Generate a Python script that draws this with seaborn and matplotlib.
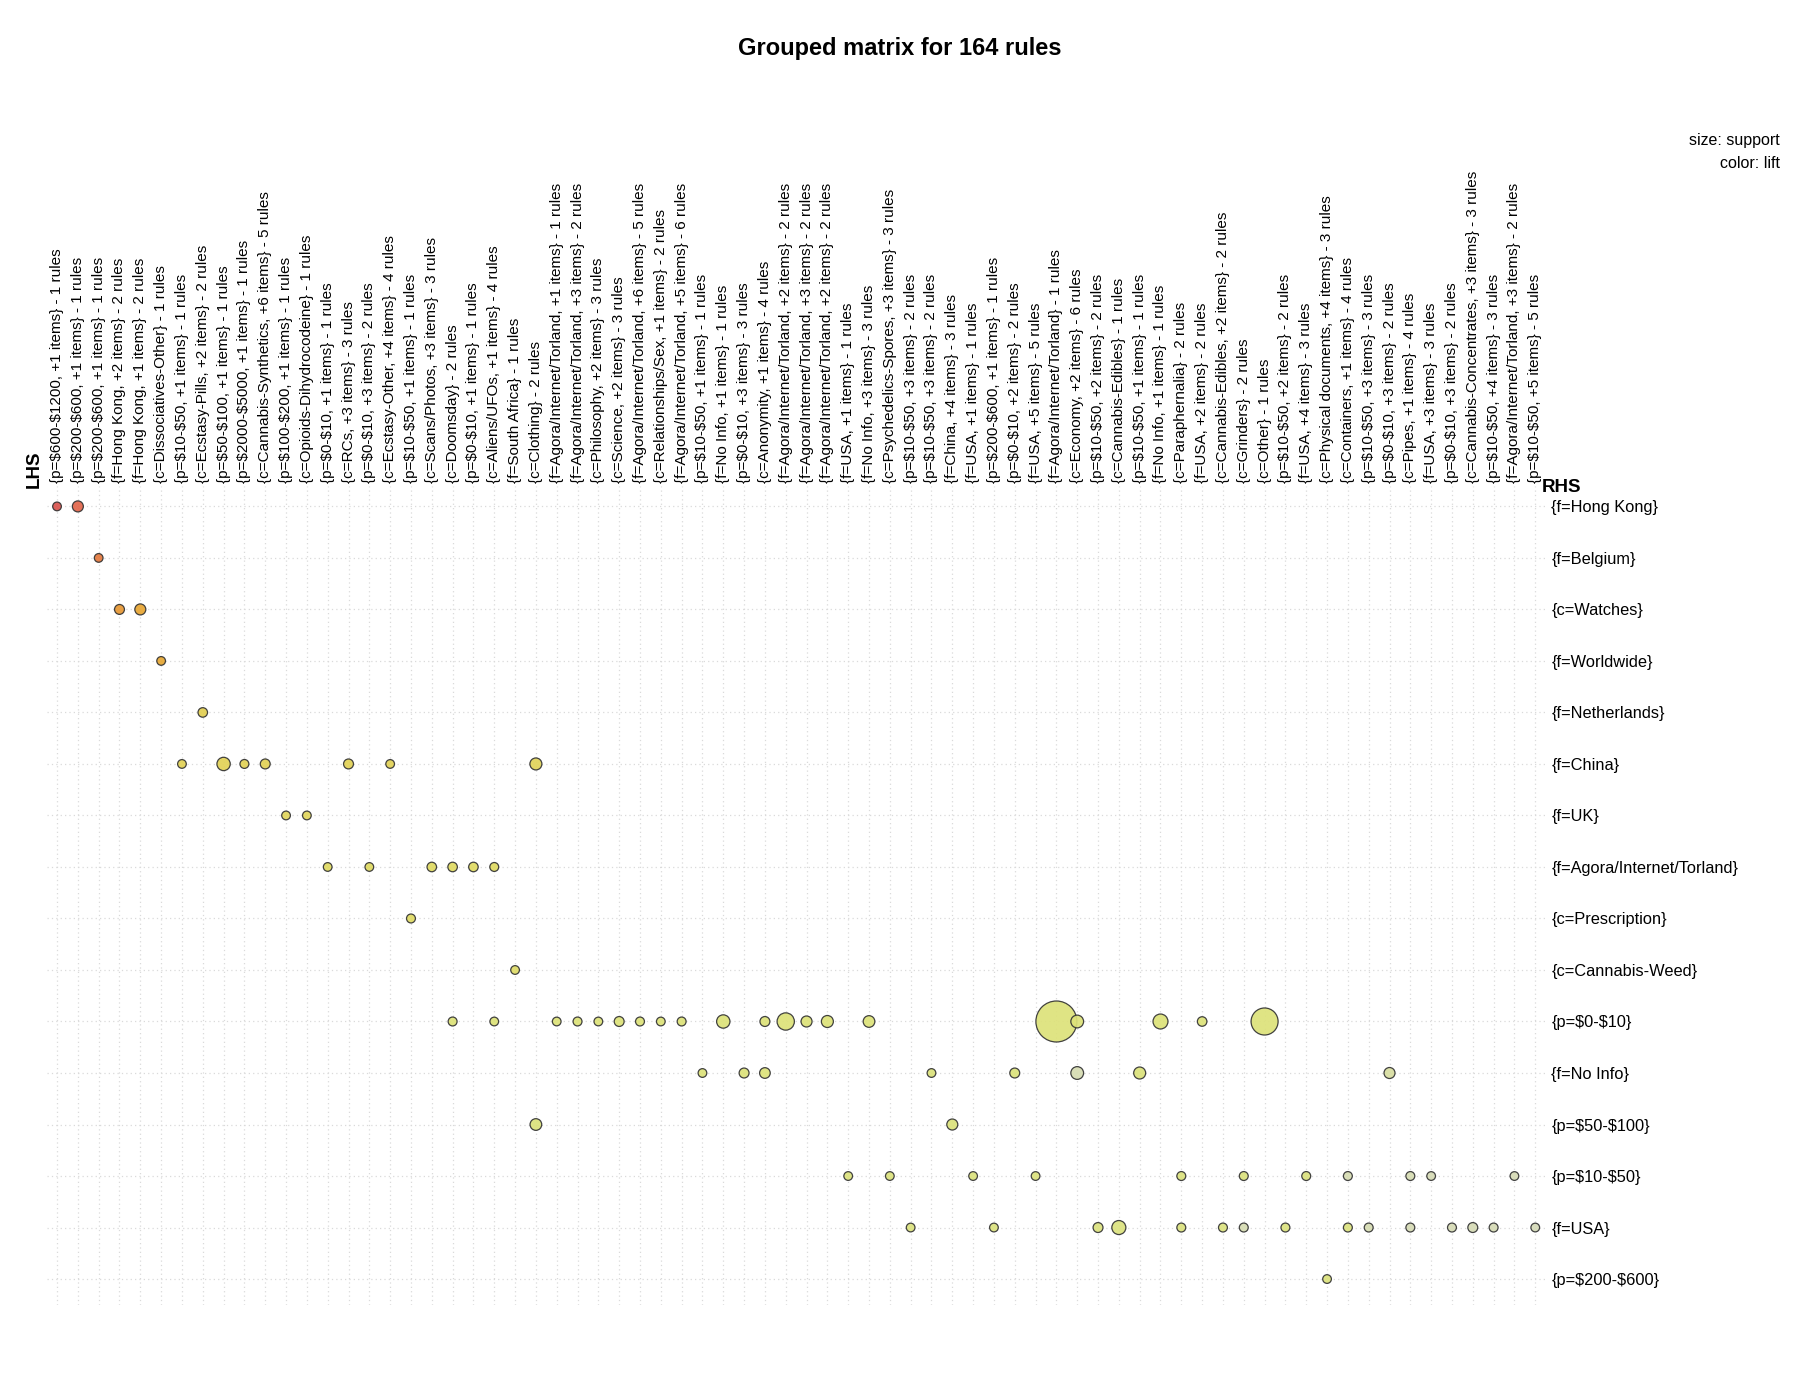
import pandas as pd
import seaborn as sns
import matplotlib.pyplot as plt
from matplotlib.colors import LinearSegmentedColormap, LogNorm

# LHS groups (columns), in drawing order
lhs_labels = [
    "{p=$600-$1200, +1 items} - 1 rules",
    "{p=$200-$600, +1 items} - 1 rules",
    "{p=$200-$600, +1 items} - 1 rules",
    "{f=Hong Kong, +2 items} - 2 rules",
    "{f=Hong Kong, +1 items} - 2 rules",
    "{c=Dissociatives-Other} - 1 rules",
    "{p=$10-$50, +1 items} - 1 rules",
    "{c=Ecstasy-Pills, +2 items} - 2 rules",
    "{p=$50-$100, +1 items} - 1 rules",
    "{p=$2000-$5000, +1 items} - 1 rules",
    "{c=Cannabis-Synthetics, +6 items} - 5 rules",
    "{p=$100-$200, +1 items} - 1 rules",
    "{c=Opioids-Dihydrocodeine} - 1 rules",
    "{p=$0-$10, +1 items} - 1 rules",
    "{c=RCs, +3 items} - 3 rules",
    "{p=$0-$10, +3 items} - 2 rules",
    "{c=Ecstasy-Other, +4 items} - 4 rules",
    "{p=$10-$50, +1 items} - 1 rules",
    "{c=Scans/Photos, +3 items} - 3 rules",
    "{c=Doomsday} - 2 rules",
    "{p=$0-$10, +1 items} - 1 rules",
    "{c=Aliens/UFOs, +1 items} - 4 rules",
    "{f=South Africa} - 1 rules",
    "{c=Clothing} - 2 rules",
    "{f=Agora/Internet/Torland, +1 items} - 1 rules",
    "{f=Agora/Internet/Torland, +3 items} - 2 rules",
    "{c=Philosophy, +2 items} - 3 rules",
    "{c=Science, +2 items} - 3 rules",
    "{f=Agora/Internet/Torland, +6 items} - 5 rules",
    "{c=Relationships/Sex, +1 items} - 2 rules",
    "{f=Agora/Internet/Torland, +5 items} - 6 rules",
    "{p=$10-$50, +1 items} - 1 rules",
    "{f=No Info, +1 items} - 1 rules",
    "{p=$0-$10, +3 items} - 3 rules",
    "{c=Anonymity, +1 items} - 4 rules",
    "{f=Agora/Internet/Torland, +2 items} - 2 rules",
    "{f=Agora/Internet/Torland, +3 items} - 2 rules",
    "{f=Agora/Internet/Torland, +2 items} - 2 rules",
    "{f=USA, +1 items} - 1 rules",
    "{f=No Info, +3 items} - 3 rules",
    "{c=Psychedelics-Spores, +3 items} - 3 rules",
    "{p=$10-$50, +3 items} - 2 rules",
    "{p=$10-$50, +3 items} - 2 rules",
    "{f=China, +4 items} - 3 rules",
    "{f=USA, +1 items} - 1 rules",
    "{p=$200-$600, +1 items} - 1 rules",
    "{p=$0-$10, +2 items} - 2 rules",
    "{f=USA, +5 items} - 5 rules",
    "{f=Agora/Internet/Torland} - 1 rules",
    "{c=Economy, +2 items} - 6 rules",
    "{p=$10-$50, +2 items} - 2 rules",
    "{c=Cannabis-Edibles} - 1 rules",
    "{p=$10-$50, +1 items} - 1 rules",
    "{f=No Info, +1 items} - 1 rules",
    "{c=Paraphernalia} - 2 rules",
    "{f=USA, +2 items} - 2 rules",
    "{c=Cannabis-Edibles, +2 items} - 2 rules",
    "{c=Grinders} - 2 rules",
    "{c=Other} - 1 rules",
    "{p=$10-$50, +2 items} - 2 rules",
    "{f=USA, +4 items} - 3 rules",
    "{c=Physical documents, +4 items} - 3 rules",
    "{c=Containers, +1 items} - 4 rules",
    "{p=$10-$50, +3 items} - 3 rules",
    "{p=$0-$10, +3 items} - 2 rules",
    "{c=Pipes, +1 items} - 4 rules",
    "{f=USA, +3 items} - 3 rules",
    "{p=$0-$10, +3 items} - 2 rules",
    "{c=Cannabis-Concentrates, +3 items} - 3 rules",
    "{p=$10-$50, +4 items} - 3 rules",
    "{f=Agora/Internet/Torland, +3 items} - 2 rules",
    "{p=$10-$50, +5 items} - 5 rules",
]

# RHS items (rows), top to bottom
rhs_labels = [
    "{f=Hong Kong}", "{f=Belgium}", "{c=Watches}", "{f=Worldwide}",
    "{f=Netherlands}", "{f=China}", "{f=UK}", "{f=Agora/Internet/Torland}",
    "{c=Prescription}", "{c=Cannabis-Weed}", "{p=$0-$10}", "{f=No Info}",
    "{p=$50-$100}", "{p=$10-$50}", "{f=USA}", "{p=$200-$600}",
]

# one entry per group: LHS column, RHS row, aggregated support, mean lift
point_lhs = [1, 2,
             3,
             4, 5,
             6,
             8,
             7, 9, 10, 11, 15, 17, 24,
             12, 13,
             14, 16, 19, 20, 21, 22,
             18,
             23,
             20, 22, 25, 26, 27, 28, 29, 30, 31, 33, 35, 36, 37, 38, 40, 49, 50, 54, 56, 59,
             32, 34, 35, 43, 47, 50, 53, 65,
             24, 44,
             39, 41, 45, 48, 55, 58, 61, 63, 66, 67, 71,
             42, 46, 51, 52, 55, 57, 58, 60, 63, 64, 66, 68, 69, 70, 72,
             62]
point_rhs = [1, 1,
             2,
             3, 3,
             4,
             5,
             6, 6, 6, 6, 6, 6, 6,
             7, 7,
             8, 8, 8, 8, 8, 8,
             9,
             10,
             11, 11, 11, 11, 11, 11, 11, 11, 11, 11, 11, 11, 11, 11, 11, 11, 11, 11, 11, 11,
             12, 12, 12, 12, 12, 12, 12, 12,
             13, 13,
             14, 14, 14, 14, 14, 14, 14, 14, 14, 14, 14,
             15, 15, 15, 15, 15, 15, 15, 15, 15, 15, 15, 15, 15, 15, 15,
             16]
point_support = [0.0020, 0.0032,
                 0.0020,
                 0.0026, 0.0032,
                 0.0020,
                 0.0024,
                 0.0020, 0.0047, 0.0021, 0.0026, 0.0026, 0.0020, 0.0038,
                 0.0020, 0.0020,
                 0.0020, 0.0020, 0.0024, 0.0024, 0.0024, 0.0021,
                 0.0021,
                 0.0020,
                 0.0021, 0.0020, 0.0020, 0.0021, 0.0020, 0.0026, 0.0021, 0.0020, 0.0021,
                 0.0047, 0.0026, 0.0079, 0.0032, 0.0038, 0.0036, 0.0444, 0.0043, 0.0059, 0.0024, 0.0193,
                 0.0020, 0.0026, 0.0030, 0.0020, 0.0026, 0.0043, 0.0038, 0.0032,
                 0.0036, 0.0032,
                 0.0020, 0.0020, 0.0020, 0.0020, 0.0021, 0.0021, 0.0021, 0.0021, 0.0021, 0.0020, 0.0020,
                 0.0020, 0.0020, 0.0026, 0.0052, 0.0021, 0.0021, 0.0021, 0.0021, 0.0021, 0.0021,
                 0.0021, 0.0021, 0.0026, 0.0021, 0.0020,
                 0.0020]
point_lift = [40.0, 34.0,
              28.0,
              22.0, 19.5,
              19.0,
              11.5,
              10.5, 10.5, 10.5, 10.5, 10.5, 10.5, 10.0,
              9.5, 9.5,
              8.5, 8.5, 8.5, 8.5, 8.5, 8.5,
              8.0,
              7.5,
              5.0, 5.0, 4.6, 4.6, 4.6, 4.6, 4.6, 4.6, 4.6, 4.3, 4.6, 4.3, 4.3, 4.3, 4.3, 4.0, 4.2, 4.2, 4.2, 4.0,
              4.0, 4.0, 4.0, 3.8, 3.8, 1.6, 3.8, 2.0,
              3.6, 3.6,
              3.2, 3.2, 3.2, 3.2, 3.2, 3.2, 3.0, 1.6, 1.6, 1.5, 1.5,
              3.0, 3.0, 3.0, 3.0, 3.0, 3.0, 1.6, 3.0, 3.0, 1.6, 1.5, 1.5, 1.5, 1.5, 1.4,
              3.4]

df = pd.DataFrame({"lhs": point_lhs, "rhs": point_rhs,
                   "support": point_support, "lift": point_lift})

heat = LinearSegmentedColormap.from_list("heat", [
    (0.00, "#D4D8C0"), (0.10, "#D7DDAE"), (0.25, "#DCE27E"),
    (0.40, "#DDE277"), (0.55, "#E0DA62"), (0.63, "#E2D052"),
    (0.72, "#E6B83A"), (0.80, "#E8A030"), (0.88, "#E37A3C"),
    (0.94, "#E2654A"), (1.00, "#D8504F")])


def no_math(text):
    return text.replace("$", r"\$")


sns.set_style("white")
plt.rcParams['font.family'] = ['Liberation Sans', 'DejaVu Sans']
plt.rcParams['text.color'] = 'black'

fig = plt.figure(figsize=(18, 14), dpi=100)
ax = fig.add_axes([0.0259, 0.068, 0.8328, 0.585])

sns.scatterplot(data=df, x="lhs", y="rhs", size="support", hue="lift",
                sizes=(0, 871), size_norm=(0, 0.0444),
                hue_norm=LogNorm(1.2, 42), palette=heat,
                edgecolor="#333333", linewidth=0.9, alpha=0.92,
                legend=False, zorder=3, ax=ax)

ax.set_xlim(0.5, 72.5)
ax.set_ylim(16.5, 0.6)
ax.set_xticks(range(1, len(lhs_labels) + 1))
ax.set_xticklabels([no_math(l) for l in lhs_labels], rotation=90, fontsize=11)
ax.set_yticks(range(1, len(rhs_labels) + 1))
ax.set_yticklabels([no_math(l) for l in rhs_labels], fontsize=11.8)
ax.xaxis.tick_top()
ax.yaxis.tick_right()
ax.tick_params(length=0, pad=2, colors="black")
ax.tick_params(axis="y", pad=4)
ax.set_xlabel("")
ax.set_ylabel("")
for s in ax.spines.values():
    s.set_visible(False)
ax.grid(True, color="#DADADA", linestyle=(0, (1, 2.5)), linewidth=0.9)
ax.set_axisbelow(True)

fig.text(0.5, 1 - 49 / 1400, "Grouped matrix for 164 rules", ha="center", va="center",
         fontsize=17, fontweight="bold")
fig.text(34 / 1800, 1 - 488 / 1400, "LHS", rotation=90, ha="center", va="bottom",
         fontsize=13.5, fontweight="bold")
fig.text(1542 / 1800, 1 - 487 / 1400, "RHS", ha="left", va="center",
         fontsize=13.5, fontweight="bold")
fig.text(1780 / 1800, 1 - 140 / 1400, "size: support", ha="right", va="center", fontsize=11.5)
fig.text(1780 / 1800, 1 - 164 / 1400, "color: lift", ha="right", va="center", fontsize=11.5)

fig.savefig("out.png", dpi=100)
